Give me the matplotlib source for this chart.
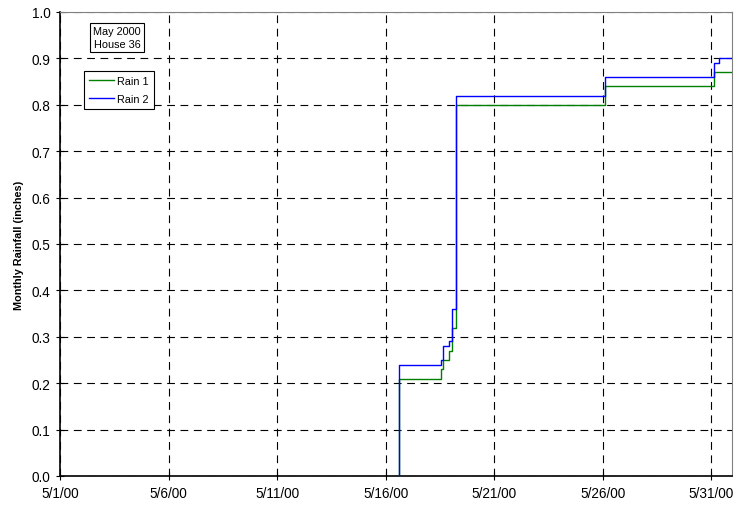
import matplotlib
matplotlib.use("Agg")
import matplotlib.pyplot as plt
import matplotlib.dates as mdates
import pandas as pd
from matplotlib.ticker import FuncFormatter, MultipleLocator

plt.rcParams['font.family'] = ['Liberation Sans', 'DejaVu Sans']

# lecturas acumuladas (hora, pulgadas)
rain1_times = ["2000-05-16 15:20", "2000-05-16 15:20", "2000-05-18 13:30", "2000-05-18 15:50",
               "2000-05-18 22:30", "2000-05-19 01:10", "2000-05-19 06:00", "2000-05-26 02:50",
               "2000-05-31 03:20", "2000-05-31 23:00"]
rain1_vals = [0.0, 0.21, 0.23, 0.25, 0.27, 0.32, 0.80, 0.84, 0.87, 0.87]

rain2_times = ["2000-05-16 15:20", "2000-05-16 15:20", "2000-05-18 13:30", "2000-05-18 15:50",
               "2000-05-18 22:30", "2000-05-19 01:10", "2000-05-19 06:00", "2000-05-26 02:50",
               "2000-05-31 03:20", "2000-05-31 08:10", "2000-05-31 23:00"]
rain2_vals = [0.0, 0.24, 0.25, 0.28, 0.29, 0.36, 0.82, 0.86, 0.89, 0.90, 0.90]

fig = plt.figure(figsize=(7.36, 5.10), dpi=100)
ax = fig.add_axes([60 / 736, 33 / 510, 672 / 736, 464 / 510])

t1 = pd.to_datetime(rain1_times)
t2 = pd.to_datetime(rain2_times)
ax.step(t1, rain1_vals, where='post', color='#008000', lw=1.0, label='Rain 1', zorder=3)
ax.step(t2, rain2_vals, where='post', color='#0000FF', lw=1.0, label='Rain 2', zorder=4)

ax.set_xlim(pd.Timestamp("2000-05-01"), pd.Timestamp("2000-05-31 23:00"))
ax.set_ylim(0, 1.0)
ax.yaxis.set_major_locator(MultipleLocator(0.1))
ax.yaxis.set_major_formatter(FuncFormatter(lambda v, p: f"{v:.1f}"))
ax.xaxis.set_major_locator(mdates.DayLocator(bymonthday=[1, 6, 11, 16, 21, 26, 31]))
ax.xaxis.set_major_formatter(FuncFormatter(
    lambda v, p: "{d.month}/{d.day}/{y:02d}".format(d=mdates.num2date(v), y=mdates.num2date(v).year % 100)))

ax.grid(True, color='black', linestyle=(0, (7, 5)), linewidth=0.8, zorder=1)
ax.tick_params(direction='inout', length=6, width=0.8, labelsize=9.8, pad=4)

for s in ['top', 'right']:
    ax.spines[s].set_color('#808080')
for s in ['left', 'bottom']:
    ax.spines[s].set_color('black')
    ax.spines[s].set_linewidth(1.2)

ax.set_ylabel('Monthly Rainfall (inches)', fontsize=7.8, fontweight='bold', labelpad=5)

ax.text(0.085, 0.945, "May 2000\nHouse 36", transform=ax.transAxes, ha='center', va='center',
        fontsize=7.8, linespacing=1.3,
        bbox=dict(boxstyle='square,pad=0.3', fc='white', ec='black', lw=0.8))

leg = ax.legend(loc='upper left', bbox_to_anchor=(0.027, 0.885), fontsize=7.8, frameon=True,
                fancybox=False, edgecolor='black', framealpha=1, handlelength=2.3,
                handletextpad=0.3, borderpad=0.5, labelspacing=0.7)
leg.get_frame().set_linewidth(0.8)

plt.savefig('out.png', dpi=100)
